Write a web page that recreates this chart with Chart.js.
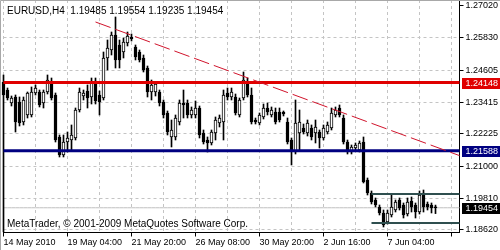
<!DOCTYPE html>
<html>
<head>
<meta charset="utf-8">
<script src="https://cdn.jsdelivr.net/npm/chart.js@4.4.1/dist/chart.umd.min.js"></script>
<style>
  html, body { margin: 0; padding: 0; background: #fff; }
  canvas { display: block; }
</style>
</head>
<body>
<canvas id="chart" width="500" height="250"></canvas>
<script>
const symbol = "EURUSD,H4";
const copyright = "MetaTrader, © 2001-2009 MetaQuotes Software Corp.";

// H4 candles, oldest first
const opens = [
  1.24170, 1.23870, 1.23383, 1.23608, 1.23420, 1.22670, 1.22933, 1.22933, 1.23758, 1.23795,
  1.23383, 1.23795, 1.24170, 1.23683, 1.22108, 1.21433, 1.21920, 1.21995, 1.22070, 1.23120,
  1.23645, 1.23833, 1.23608, 1.24208, 1.23683, 1.23570, 1.25070, 1.25370, 1.25933, 1.25558,
  1.25295, 1.25633, 1.25858, 1.25483, 1.25295, 1.25070, 1.24695, 1.23795, 1.23795, 1.23795,
  1.23420, 1.23008, 1.22108, 1.22108, 1.22670, 1.23383, 1.23383, 1.22933, 1.22933, 1.23195,
  1.22258, 1.21995, 1.21883, 1.22258, 1.22633, 1.22670, 1.23758, 1.23608, 1.23608, 1.22933,
  1.23570, 1.24170, 1.23683, 1.22745, 1.22633, 1.22858, 1.23195, 1.22933, 1.23045, 1.23045,
  1.23045, 1.22670, 1.21995, 1.21545, 1.22258, 1.22445, 1.22258, 1.22445, 1.22258, 1.22295,
  1.22070, 1.22295, 1.22445, 1.22933, 1.23195, 1.22820, 1.21920, 1.21545, 1.21695, 1.21620,
  1.21920, 1.20495, 1.20008, 1.19745, 1.19483, 1.19258, 1.18920, 1.19183, 1.19370, 1.19745,
  1.19558, 1.19220, 1.19708, 1.19558, 1.19295, 1.20008, 1.19595, 1.19558, 1.19485
];
const highs = [
  1.24433, 1.23945, 1.23645, 1.23683, 1.23608, 1.23608, 1.23795, 1.23983, 1.24058, 1.23870,
  1.23870, 1.24433, 1.24320, 1.23758, 1.22183, 1.22183, 1.22295, 1.22558, 1.23195, 1.23945,
  1.23870, 1.24058, 1.24320, 1.24320, 1.23833, 1.25295, 1.25745, 1.26045, 1.26608, 1.25745,
  1.25820, 1.26045, 1.25970, 1.25558, 1.25370, 1.25183, 1.24770, 1.24245, 1.24170, 1.23870,
  1.23495, 1.23083, 1.22745, 1.22933, 1.23495, 1.23870, 1.23495, 1.23233, 1.23458, 1.23270,
  1.22370, 1.22108, 1.22370, 1.22858, 1.22933, 1.23870, 1.23945, 1.23945, 1.23720, 1.23570,
  1.24545, 1.24320, 1.23945, 1.22820, 1.23008, 1.23345, 1.23383, 1.23233, 1.23195, 1.23195,
  1.23083, 1.22820, 1.22070, 1.23495, 1.23120, 1.22595, 1.22745, 1.22558, 1.22745, 1.22370,
  1.22558, 1.22670, 1.23195, 1.23233, 1.23308, 1.22933, 1.21995, 1.21808, 1.21883, 1.21958,
  1.22108, 1.20570, 1.20083, 1.19820, 1.19558, 1.19370, 1.19370, 1.19933, 1.19745, 1.19820,
  1.19633, 1.19820, 1.19858, 1.19633, 1.20083, 1.20120, 1.19670, 1.19633, 1.19554
];
const lows = [
  1.18550, 1.23495, 1.23270, 1.22295, 1.22520, 1.22558, 1.22820, 1.22858, 1.23683, 1.23233,
  1.23195, 1.23720, 1.23495, 1.21920, 1.21358, 1.21358, 1.21545, 1.21620, 1.21995, 1.23045,
  1.23495, 1.23195, 1.23345, 1.23345, 1.22933, 1.23495, 1.24620, 1.25183, 1.24695, 1.24695,
  1.25070, 1.25520, 1.25708, 1.24995, 1.24920, 1.24545, 1.23608, 1.23495, 1.23645, 1.23270,
  1.22820, 1.22183, 1.21733, 1.21995, 1.22558, 1.22820, 1.22820, 1.22820, 1.22820, 1.22070,
  1.21845, 1.21545, 1.21808, 1.21995, 1.22483, 1.21995, 1.23495, 1.23495, 1.22933, 1.22858,
  1.23495, 1.23608, 1.22595, 1.22595, 1.22558, 1.22783, 1.22933, 1.22858, 1.22595, 1.22670,
  1.22895, 1.21845, 1.21058, 1.21470, 1.21620, 1.22220, 1.22145, 1.21995, 1.21883, 1.21695,
  1.21995, 1.22220, 1.22370, 1.22858, 1.22858, 1.21845, 1.21470, 1.21470, 1.21620, 1.21545,
  1.20383, 1.19933, 1.19595, 1.19483, 1.19183, 1.18733, 1.18845, 1.19108, 1.19295, 1.19370,
  1.19070, 1.19145, 1.19295, 1.19070, 1.19220, 1.19295, 1.19370, 1.19258, 1.19235
];
const closes = [
  1.23683, 1.23570, 1.23570, 1.22670, 1.22633, 1.23495, 1.23758, 1.23795, 1.23945, 1.23308,
  1.23795, 1.24245, 1.23570, 1.21995, 1.21433, 1.21920, 1.22070, 1.22183, 1.23120, 1.23795,
  1.23758, 1.23570, 1.24170, 1.23458, 1.23420, 1.25070, 1.25445, 1.25933, 1.24995, 1.24995,
  1.25670, 1.25895, 1.25783, 1.25108, 1.24995, 1.24620, 1.23795, 1.24058, 1.24095, 1.23383,
  1.22933, 1.22295, 1.22370, 1.22820, 1.23383, 1.23308, 1.22933, 1.23120, 1.23195, 1.22183,
  1.21920, 1.21883, 1.22295, 1.22745, 1.22820, 1.23683, 1.23608, 1.23795, 1.23008, 1.23495,
  1.24245, 1.23683, 1.22670, 1.22670, 1.22933, 1.23195, 1.23045, 1.23120, 1.22670, 1.22745,
  1.22970, 1.21920, 1.21620, 1.22633, 1.22670, 1.22295, 1.22633, 1.22108, 1.22483, 1.22070,
  1.22445, 1.22558, 1.23008, 1.23120, 1.22933, 1.21920, 1.21545, 1.21733, 1.21808, 1.21883,
  1.20420, 1.20008, 1.19670, 1.19558, 1.19258, 1.18808, 1.19258, 1.19483, 1.19670, 1.19445,
  1.19183, 1.19670, 1.19483, 1.19295, 1.19933, 1.19483, 1.19483, 1.19445, 1.19454
];

const timeLabels = ["14 May 2010", "19 May 04:00", "21 May 20:00", "26 May 08:00",
                    "30 May 20:00", "2 Jun 16:00", "7 Jun 04:00"];
const priceTicks = [1.18620, 1.19810, 1.21000, 1.22225, 1.23415, 1.24605, 1.25830, 1.27020];

// drawn objects
const resistance = 1.24148;
const support = 1.21588;
const rangeTop = 1.19970;
const rangeBottom = 1.18883;
const rangeFrom = 92;
const trendFrom = 23;
const trendStart = 1.26420;
const trendEnd = 1.21410;

const FONT = { family: '"Liberation Sans", Arial, sans-serif', size: 9 };
const FONT_CSS = '10px "Liberation Sans", Arial, sans-serif';
const labelEvery = 16;
const gridEvery = 8;
const rightShift = 6;
const total = opens.length + rightShift;
const cats = Array.from({ length: total }, (_, i) => i);
const bid = closes[closes.length - 1];
const last = opens.length - 1;

const flat = (v, from = 0) => cats.map(i => i >= from ? v : null);
const trend = cats.map(i => i === trendFrom ? trendStart : i === total - 1 ? trendEnd : null);

const noPad = s => { s.paddingTop = 0; s.paddingBottom = 0; s.paddingLeft = 0; s.paddingRight = 0; };

const overlay = {
  id: 'overlay',
  beforeDraw(chart) {
    const ctx = chart.ctx;
    ctx.save();
    ctx.fillStyle = '#fff';
    ctx.fillRect(0, 0, chart.width, chart.height);
    ctx.restore();
  },
  afterDraw(chart) {
    const { ctx, chartArea, scales: { y } } = chart;
    ctx.save();
    ctx.font = FONT_CSS;
    ctx.textBaseline = 'middle';
    ctx.textAlign = 'left';
    ctx.fillStyle = '#000';
    const head = [opens[last], highs[last], lows[last], closes[last]].map(v => v.toFixed(5)).join(' ');
    ctx.fillText(symbol + '  ' + head, chartArea.left + 3.5, 11);
    ctx.fillText(copyright, chartArea.left + 3.5, chartArea.bottom - 8.5);

    ctx.font = '9px "Liberation Sans", Arial, sans-serif';
    [[resistance, '#e00000'], [support, '#000080'], [bid, '#000000']].forEach(([v, c]) => {
      const py = Math.round(y.getPixelForValue(v));
      ctx.fillStyle = c;
      ctx.fillRect(Math.round(chartArea.right) + 2, py - 5, 40, 11);
      ctx.fillStyle = '#fff';
      ctx.fillText(v.toFixed(5), chartArea.right + 6, py + 0.5);
    });

    ctx.strokeStyle = '#a8a8a8';
    ctx.lineWidth = 1;
    ctx.beginPath();
    ctx.moveTo(0.5, chart.height);
    ctx.lineTo(0.5, 0.5);
    ctx.lineTo(chart.width, 0.5);
    ctx.stroke();
    ctx.restore();
  }
};

new Chart(document.getElementById('chart'), {
  type: 'bar',
  data: {
    labels: cats,
    datasets: [
      { type: 'line', data: trend, borderColor: '#d0142c', borderWidth: 1, borderDash: [16, 5],
        pointRadius: 0, spanGaps: true, fill: false, order: 0 },
      { type: 'line', data: flat(resistance), borderColor: '#e00000', borderWidth: 3,
        pointRadius: 0, fill: false, order: 1 },
      { type: 'line', data: flat(support), borderColor: '#000080', borderWidth: 3,
        pointRadius: 0, fill: false, order: 1 },
      { type: 'line', data: flat(rangeTop, rangeFrom), borderColor: '#2f4f4f', borderWidth: 2,
        pointRadius: 0, fill: false, order: 1 },
      { type: 'line', data: flat(rangeBottom, rangeFrom), borderColor: '#2f4f4f', borderWidth: 2,
        pointRadius: 0, fill: false, order: 1 },
      { type: 'bar', data: opens.map((o, i) => [o, closes[i]]),
        backgroundColor: opens.map((o, i) => closes[i] >= o ? '#ffffff' : '#000000'),
        borderColor: '#000', borderWidth: 1, borderSkipped: false,
        barThickness: 3, grouped: false, clip: false, order: 4 },
      { type: 'bar', data: lows.map((l, i) => [l, highs[i]]),
        backgroundColor: '#000', barThickness: 1, grouped: false, clip: false, order: 5 },
      { type: 'line', data: flat(bid), borderColor: '#c0c0c0', borderWidth: 1,
        pointRadius: 0, fill: false, order: 6 }
    ]
  },
  options: {
    responsive: false,
    devicePixelRatio: 1,
    animation: false,
    events: [],
    layout: { padding: { left: 3.5, top: 0, right: 0, bottom: 0 } },
    plugins: { legend: { display: false }, tooltip: { enabled: false } },
    scales: {
      x: {
        offset: false,
        afterFit: s => { s.height = 17.5; noPad(s); },
        ticks: {
          autoSkip: false, maxRotation: 0, minRotation: 0, align: 'start',
          font: FONT, color: '#000', padding: 1,
          callback: (v, i) => i % labelEvery === 0 ? (timeLabels[i / labelEvery] || '') : ''
        },
        grid: {
          offset: false,
          color: c => c.index % gridEvery === 0 ? '#c4c4c4' : 'transparent',
          tickColor: c => c.index % labelEvery === 0 ? '#000' : 'transparent',
          tickLength: 4, lineWidth: 1
        },
        border: { display: true, color: '#000', width: 1, dash: [3, 3] }
      },
      y: {
        position: 'right',
        bounds: 'data',
        min: 1.18526,
        max: 1.27245,
        afterBuildTicks: s => { s.ticks = priceTicks.map(v => ({ value: v })); },
        afterFit: s => { s.width = 40.5; noPad(s); },
        ticks: { font: FONT, color: '#000', padding: 2, callback: v => Number(v).toFixed(5) },
        grid: {
          color: c => c.tick && c.tick.value === priceTicks[priceTicks.length - 1] ? 'transparent' : '#c4c4c4',
          tickColor: '#000', tickLength: 4, lineWidth: 1
        },
        border: { display: true, color: '#000', width: 1, dash: [3, 3] }
      }
    }
  },
  plugins: [overlay]
});
</script>
</body>
</html>
